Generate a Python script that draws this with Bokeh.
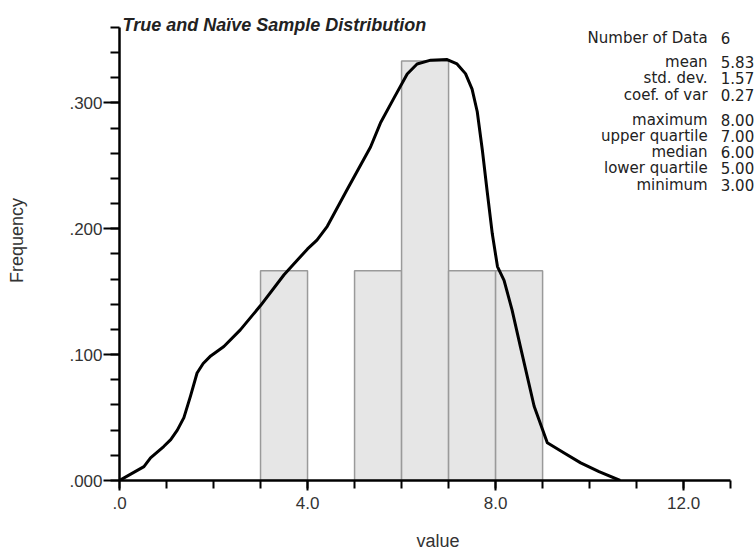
from bokeh.plotting import figure
from bokeh.models import Range1d, FixedTicker, CustomJSTickFormatter, Label
from bokeh.embed import file_html
from bokeh.resources import INLINE

# ---- data ----
bin_left = [3, 5, 6, 7, 8]
bin_right = [4, 6, 7, 8, 9]
bin_freq = [0.1667, 0.1667, 0.3333, 0.1667, 0.1667]

curve_x = [0.0, 0.52, 0.66, 0.94, 1.09, 1.23, 1.37, 1.51, 1.65, 1.78, 1.94, 2.22, 2.57,
           3.0, 3.5, 3.78, 4.0, 4.2, 4.42, 4.84, 5.34, 5.55, 5.84, 6.12, 6.33, 6.62,
           6.97, 7.18, 7.36, 7.5, 7.61, 7.72, 7.82, 7.93, 8.04, 8.18, 8.35, 8.53,
           8.82, 9.1, 9.45, 9.81, 10.2, 10.65]
curve_y = [0.0, 0.011, 0.018, 0.027, 0.0325, 0.040, 0.050, 0.067, 0.0854, 0.093, 0.099,
           0.1065, 0.1197, 0.139, 0.1635, 0.175, 0.184, 0.191, 0.202, 0.231, 0.265, 0.284,
           0.304, 0.323, 0.331, 0.334, 0.3345, 0.331, 0.3233, 0.311, 0.293, 0.262, 0.230,
           0.196, 0.170, 0.159, 0.1356, 0.106, 0.059, 0.030, 0.022, 0.014, 0.007, 0.0]

stat_labels = ["Number of Data", "mean", "std. dev.", "coef. of var",
               "maximum", "upper quartile", "median", "lower quartile", "minimum"]
stat_values = ["6", "5.83", "1.57", "0.27", "8.00", "7.00", "6.00", "5.00", "3.00"]

x_major = [0, 4, 8, 12]
x_minor = list(range(0, 14))
y_major = [0.0, 0.1, 0.2, 0.3]
y_minor = [round(0.02 * i, 2) for i in range(0, 19)]

title_text = "True and Naïve Sample Distribution"

# ---- layout constants ----
X_AXIS_END = 13
Y_AXIS_END = 0.36
X_VIEW_END = 13.55     # frame extends to right edge of the page
Y_VIEW_END = 0.3814    # frame extends to top edge of the page
PX_PER_Y = 481 / Y_VIEW_END

p = figure(width=756, height=553, x_range=Range1d(0, X_VIEW_END), y_range=Range1d(0, Y_VIEW_END),
           output_backend="svg", toolbar_location=None,
           min_border_left=119, min_border_right=0, min_border_top=0, min_border_bottom=72)
p.outline_line_color = None
p.xgrid.visible = False
p.ygrid.visible = False
p.background_fill_color = "white"
p.border_fill_color = "white"

p.quad(left=bin_left, right=bin_right, bottom=0, top=bin_freq,
       fill_color="#e6e6e6", line_color="#9a9a9a", line_width=1.5)
p.line(curve_x, curve_y, line_width=3, line_color="black", line_join="round")

FONT = "Liberation Sans"
for ax in (p.xaxis[0], p.yaxis[0]):
    ax.axis_line_color = "black"
    ax.axis_line_width = 2.5
    ax.major_tick_line_color = "black"
    ax.minor_tick_line_color = "black"
    ax.major_tick_line_width = 2
    ax.minor_tick_line_width = 2
    ax.major_tick_in = 0
    ax.minor_tick_in = 0
    ax.major_label_text_font = FONT
    ax.major_label_text_font_size = "17px"
    ax.major_label_text_color = "#333333"
    ax.axis_label_text_font = FONT
    ax.axis_label_text_font_size = "18px"
    ax.axis_label_text_font_style = "normal"
    ax.axis_label_text_color = "#333333"

xa = p.xaxis[0]
xa.bounds = (0, X_AXIS_END)
xa.ticker = FixedTicker(ticks=x_major, minor_ticks=x_minor)
xa.formatter = CustomJSTickFormatter(code="return tick.toFixed(1).replace(/^0/, '');")
xa.major_tick_out = 10
xa.minor_tick_out = 8
xa.major_label_standoff = 6
xa.axis_label = "value"
xa.axis_label_standoff = 19

ya = p.yaxis[0]
ya.bounds = (0, Y_AXIS_END)
ya.ticker = FixedTicker(ticks=y_major, minor_ticks=y_minor)
ya.formatter = CustomJSTickFormatter(code="return tick.toFixed(3).replace(/^0/, '');")
ya.major_tick_out = 16
ya.minor_tick_out = 9
ya.major_label_standoff = 1
ya.axis_label = "Frequency"
ya.axis_label_standoff = 39

# title
p.add_layout(Label(x=0.064, y=(481 - 25) / PX_PER_Y, text=title_text, text_font=FONT,
                   text_font_size="18px", text_font_style="bold italic",
                   text_color="#222222", text_baseline="alphabetic", text_align="left"))

# stats block
row_px = [38, 62, 78, 95, 120, 136, 152, 168, 185]
for lab, val, py in zip(stat_labels, stat_values, row_px):
    yy = (481 - py) / PX_PER_Y
    p.add_layout(Label(x=12.51, y=yy, text=lab, text_font="DejaVu Sans",
                       text_font_size="15px", text_color="#222222",
                       text_align="right", text_baseline="middle"))
    p.add_layout(Label(x=12.79, y=yy, text=val, text_font="DejaVu Sans",
                       text_font_size="15px", text_color="#222222",
                       text_align="left", text_baseline="middle"))

open("out.html", "w").write(file_html(p, INLINE))
